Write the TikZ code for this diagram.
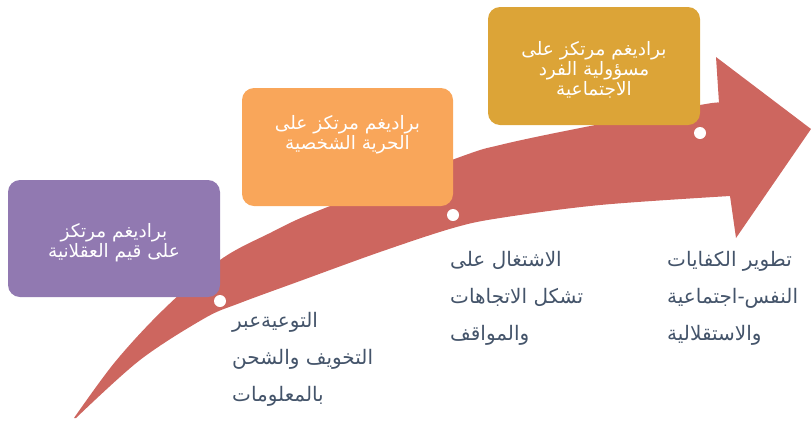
\documentclass[tikz,border=0pt]{standalone}
\usepackage{fontspec}
\TeXXeTstate=1
\newfontfamily\arabicfont[Script=Arabic]{DejaVu Sans}
\definecolor{arrowred}{HTML}{CD665F}
\definecolor{boxpurple}{HTML}{9179B1}
\definecolor{boxorange}{HTML}{F9A65A}
\definecolor{boxgold}{HTML}{DCA437}
\definecolor{textslate}{HTML}{44546A}
\begin{document}
\begin{tikzpicture}[x=1pt,y=-1pt,
  box/.style={rounded corners=12pt, inner sep=0pt, draw=none},
  boxtext/.style={text=white, align=center, inner sep=0pt, font=\arabicfont\fontsize{18.5}{20}\selectfont},
  lowtext/.style={text=textslate, align=left, inner sep=0pt, anchor=west, font=\arabicfont\fontsize{20}{37}\selectfont},
  dotmark/.style={circle, fill=white, inner sep=0pt, minimum size=12pt}]
\useasboundingbox (0,0) rectangle (811,421);
\clip (0,0) rectangle (811,421);
% curved arrow
\fill[arrowred] (74,418)
  -- plot[smooth, tension=0.55] coordinates {(74,418) (115,362) (163,310) (220,260) (270,233) (320,210) (460,157) (500,145) (570,130) (700,105) (719,103)}
  -- (716,57) -- (811,129) -- (736,238) -- (730,196)
  -- plot[smooth, tension=0.55] coordinates {(730,196) (600,205) (500,218) (453,228) (380,252) (300,281) (240,303) (205,318) (140,360) (76,418)}
  -- cycle;
% boxes
\node[box, fill=boxpurple, minimum width=212pt, minimum height=117pt] (b1) at (114,238.5) {};
\node[box, fill=boxorange, minimum width=211pt, minimum height=118pt] (b2) at (347.5,147) {};
\node[box, fill=boxgold, minimum width=212pt, minimum height=118pt] (b3) at (594,66) {};
\node[boxtext] (b1t) at (114,242.5) {\beginR براديغم مرتكز\endR\\\beginR على قيم العقلانية\endR};
\node[boxtext] (b2t) at (347.5,135) {\beginR براديغم مرتكز على\endR\\\beginR الحرية الشخصية\endR};
\node[boxtext] (b3t) at (594,69.5) {\beginR براديغم مرتكز على\endR\\\beginR مسؤولية الفرد\endR\\\beginR الاجتماعية\endR};
% dots
\node[dotmark] (d1) at (220,301) {};
\node[dotmark] (d2) at (453,215) {};
\node[dotmark] (d3) at (700,133) {};
% lower texts
\node[lowtext] (l1) at (232,359) {\beginR التوعيةعبر\endR\\\beginR التخويف والشحن\endR\\\beginR بالمعلومات\endR};
\node[lowtext] (l2) at (450,298) {\beginR الاشتغال على\endR\\\beginR تشكل الاتجاهات\endR\\\beginR والمواقف\endR};
\node[lowtext] (l3) at (667,298) {\beginR تطوير الكفايات\endR\\\beginR النفس-اجتماعية\endR\\\beginR والاستقلالية\endR};
\end{tikzpicture}
\end{document}
